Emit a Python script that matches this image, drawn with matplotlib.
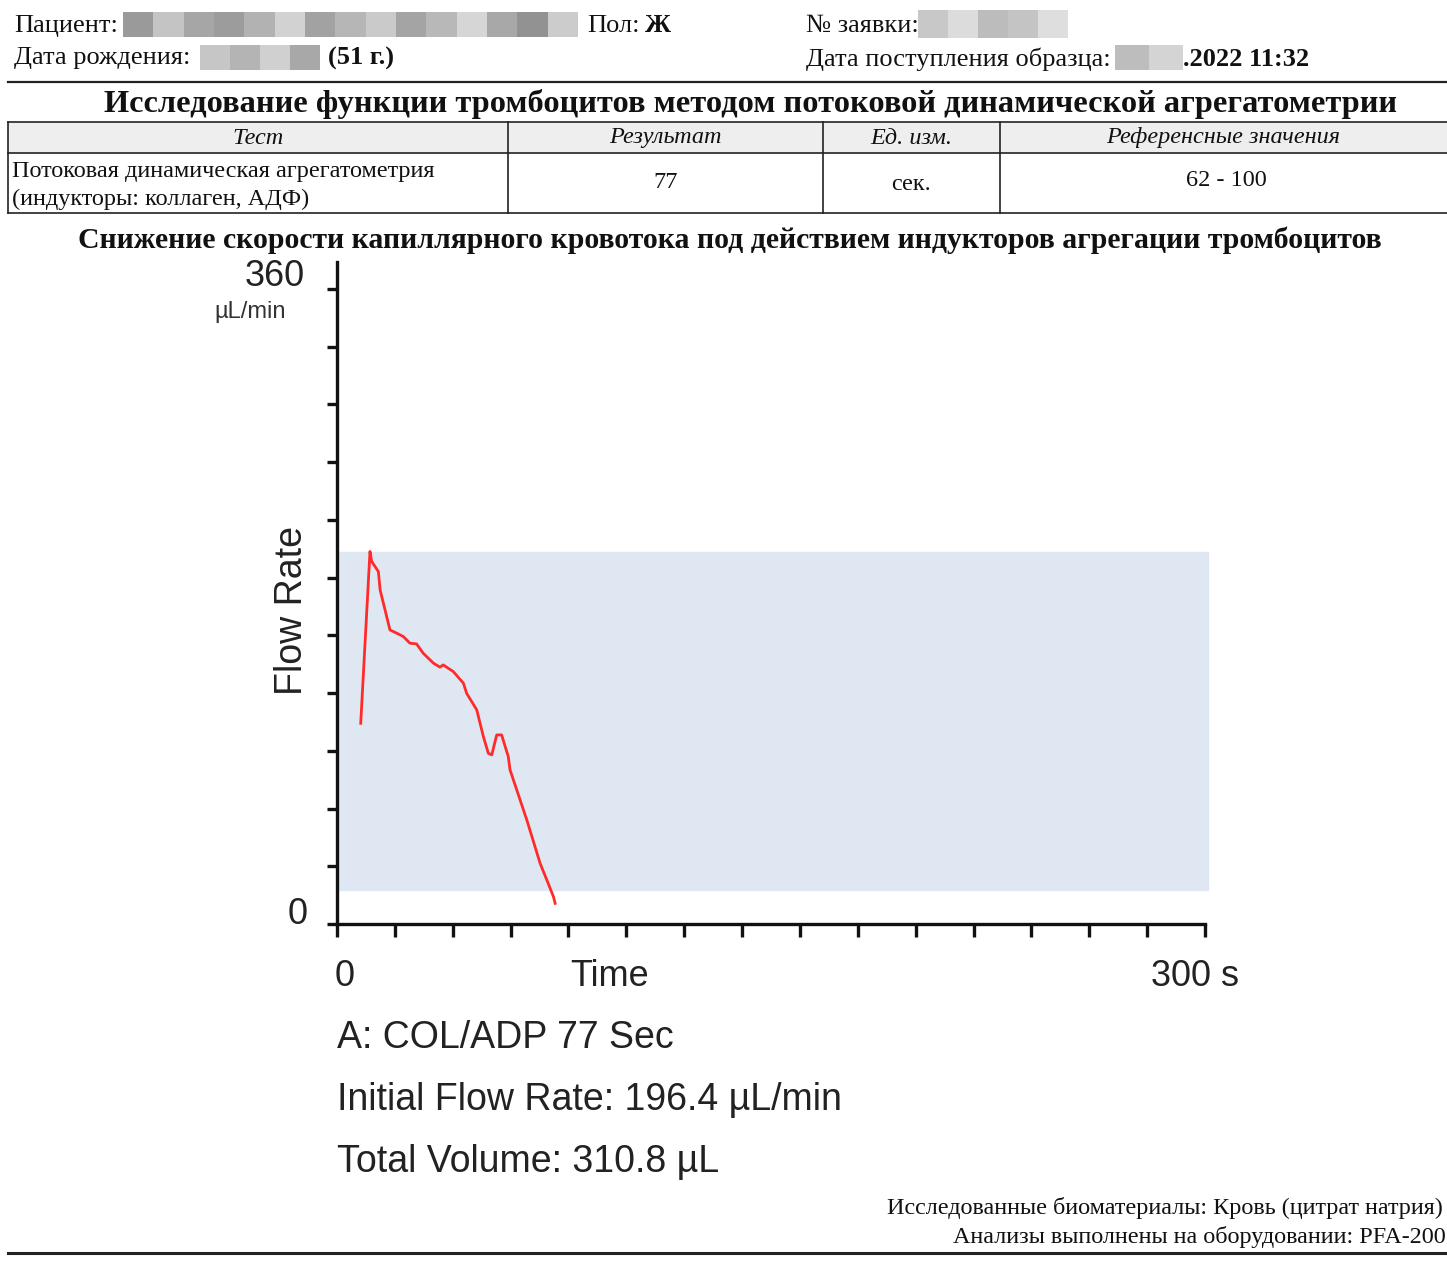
import matplotlib
matplotlib.use("Agg")
import numpy as np
import matplotlib.pyplot as plt
from matplotlib.patches import Rectangle
from matplotlib.lines import Line2D

W, H = 1447, 1261
SERIF = "Liberation Serif"
SANS = "Liberation Sans"

# flow curve (time in s, flow rate in uL/min)
time_s = [8.2, 11.4, 12.0, 14.3, 14.9, 16.6, 18.3, 20.6, 22.9, 25.2, 27.5, 29.8,
          33.3, 35.6, 36.7, 40.2, 43.7, 44.8, 48.3, 50.6, 52.3, 53.5, 55.2, 56.9,
          59.2, 59.8, 65.6, 70.2, 73.0, 74.8, 75.4]
flow = [113.8, 211.2, 205.5, 199.8, 189.4, 178.1, 166.7, 164.9, 163.0, 159.2, 158.8, 153.5,
        147.9, 145.6, 146.9, 143.1, 136.5, 130.8, 121.4, 106.2, 96.8, 95.9, 107.2, 107.2,
        94.9, 87.4, 59.0, 34.4, 23.0, 15.5, 11.7]
band = (19, 211)
x_max, y_max = 300, 360
x_step = 20
n_yticks = 12

table_head = ["Тест", "Результат", "Ед. изм.", "Референсные значения"]
test_name = ["Потоковая динамическая агрегатометрия", "(индукторы: коллаген, АДФ)"]
table_row = ["77", "сек.", "62 - 100"]
results = ["A: COL/ADP 77 Sec", "Initial Flow Rate: 196.4 µL/min", "Total Volume: 310.8 µL"]

# redaction blocks (grey shades)
blur_patient = ["#9a9a9a", "#c4c4c4", "#a6a6a6", "#9c9c9c", "#b2b2b2", "#d2d2d2", "#a2a2a2",
                "#b6b6b6", "#cacaca", "#a4a4a4", "#b8b8b8", "#d6d6d6", "#a8a8a8", "#929292", "#cccccc"]
blur_dob = ["#c6c6c6", "#b4b4b4", "#d0d0d0", "#a8a8a8"]
blur_order = ["#c8c8c8", "#dcdcdc", "#bcbcbc", "#c4c4c4", "#dedede"]
blur_date = ["#bdbdbd", "#d4d4d4"]

fig = plt.figure(figsize=(W / 100, H / 100), dpi=100)


def px(x, y):
    return x / W, 1 - y / H


def put(x, y, s, **kw):
    kw.setdefault("va", "center")
    kw.setdefault("color", "#111111")
    fig.text(*px(x, y), s, **kw)


def hline(x0, x1, y, lw=1.2, color="#222222"):
    fig.add_artist(Line2D([x0 / W, x1 / W], [1 - y / H, 1 - y / H], lw=lw, color=color))


def vline(x, y0, y1, lw=1.2, color="#222222"):
    fig.add_artist(Line2D([x / W, x / W], [1 - y0 / H, 1 - y1 / H], lw=lw, color=color))


def blur(x0, x1, y0, y1, shades):
    w = (x1 - x0) / len(shades)
    for i, c in enumerate(shades):
        fig.add_artist(Rectangle(px(x0 + i * w, y1), w / W, (y1 - y0) / H,
                                 facecolor=c, edgecolor="none"))


# header
hs = 19
put(14, 26, "Пациент:", fontsize=hs, family=SERIF)
blur(123, 578, 12, 37, blur_patient)
put(587, 26, "Пол:", fontsize=hs, family=SERIF)
put(645, 26, "Ж", fontsize=hs, family=SERIF, weight="bold")
put(14, 58, "Дата рождения:", fontsize=hs, family=SERIF)
blur(200, 320, 45, 70, blur_dob)
put(328, 58, "(51 г.)", fontsize=hs, family=SERIF, weight="bold")
put(806, 26, "№ заявки:", fontsize=hs, family=SERIF)
blur(918, 1068, 10, 38, blur_order)
put(806, 59, "Дата поступления образца:", fontsize=hs, family=SERIF)
blur(1115, 1183, 45, 70, blur_date)
put(1183, 59, ".2022 11:32", fontsize=hs, family=SERIF, weight="bold")
hline(8, W, 82, lw=1.6)

put(750, 104, "Исследование функции тромбоцитов методом потоковой динамической агрегатометрии",
    fontsize=23.3, family=SERIF, weight="bold", ha="center")

# table
ts = 17.5
col_x = [8, 508, 823, 1000, W]
fig.add_artist(Rectangle(px(8, 153), (W - 8) / W, 31 / H, facecolor="#eeeeee", edgecolor="none"))
for y in (122, 153, 213):
    hline(8, W, y)
for x in col_x[:-1]:
    vline(x, 122, 213)
for i, s in enumerate(table_head):
    put((col_x[i] + col_x[i + 1]) / 2, 138, s, fontsize=ts, family=SERIF, style="italic", ha="center")
put(12, 171, test_name[0], fontsize=ts, family=SERIF)
put(12, 199, test_name[1], fontsize=ts, family=SERIF)
put(666, 183, table_row[0], fontsize=ts, family=SERIF, ha="center")
put(911, 184, table_row[1], fontsize=ts, family=SERIF, ha="center")
put(1226, 180, table_row[2], fontsize=ts, family=SERIF, ha="center")

put(730, 240, "Снижение скорости капиллярного кровотока под действием индукторов агрегации тромбоцитов",
    fontsize=21.4, family=SERIF, weight="bold", ha="center")

# chart
x0, x1, yb, yt = 337, 1205, 924, 262
ax = fig.add_axes([x0 / W, 1 - yb / H, (x1 - x0) / W, (yb - yt) / H])
y_top = y_max * (yb - yt) / (yb - 289)
ax.set_xlim(0, x_max)
ax.set_ylim(0, y_top)
ax.axhspan(band[0], band[1], xmin=0, xmax=1.003, color="#dfe8f2", zorder=0, clip_on=False)
ax.plot(time_s, flow, color="#ff2b2b", lw=2.0)
for s in ("top", "right"):
    ax.spines[s].set_visible(False)
for s in ("left", "bottom"):
    ax.spines[s].set_linewidth(2.4)
    ax.spines[s].set_color("#111111")
ax.set_xticks(np.arange(0, x_max + 1, x_step))
ax.set_yticks(np.linspace(0, y_max, n_yticks))
ax.tick_params(axis="x", length=9, width=2.4, labelbottom=False, color="#111111")
ax.tick_params(axis="y", length=7, width=2.4, labelleft=False, color="#111111")
ax.patch.set_alpha(0)

put(305, 276, "360", fontsize=26, family=SANS, ha="right", color="#222222")
put(286, 312, "µL/min", fontsize=17, family=SANS, ha="right", color="#333333")
put(292, 610, "Flow Rate", fontsize=27, family=SANS, ha="center", rotation=90, color="#222222")
put(308, 914, "0", fontsize=26, family=SANS, ha="right", color="#222222")
put(345, 977, "0", fontsize=26, family=SANS, ha="center", color="#222222")
put(570, 977, "Time", fontsize=26, family=SANS, color="#222222")
put(1195, 977, "300 s", fontsize=26, family=SANS, ha="center", color="#222222")
for i, s in enumerate(results):
    put(337, 1038 + i * 62, s, fontsize=27, family=SANS, color="#222222")

# footer
fs = 17.4
put(1443, 1208, "Исследованные биоматериалы: Кровь (цитрат натрия)", fontsize=fs, family=SERIF, ha="right")
put(1446, 1237, "Анализы выполнены на оборудовании: PFA-200", fontsize=fs, family=SERIF, ha="right")
hline(8, W, 1253, lw=2.2)

fig.savefig("out.png", dpi=100, facecolor="white")
